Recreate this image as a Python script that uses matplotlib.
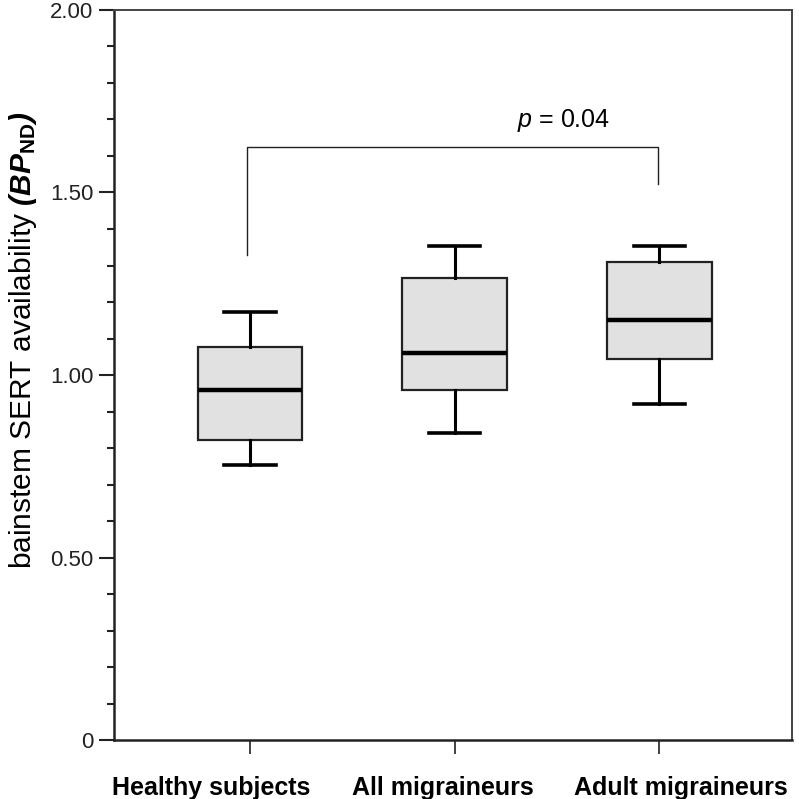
import matplotlib
matplotlib.use("Agg")
import matplotlib.pyplot as plt
from matplotlib.ticker import MultipleLocator, FixedLocator, FixedFormatter
from matplotlib.transforms import ScaledTranslation

plt.rcParams['font.family'] = ['Liberation Sans', 'DejaVu Sans']
plt.rcParams['mathtext.fontset'] = 'custom'
plt.rcParams['mathtext.rm'] = 'Liberation Sans:bold'
plt.rcParams['mathtext.it'] = 'Liberation Sans:italic'
plt.rcParams['mathtext.bf'] = 'Liberation Sans:bold:italic'

# groups and box statistics
groups = ['Healthy subjects', 'All migraineurs', 'Adult migraineurs']
whislo = [0.754, 0.842, 0.921]
q1 = [0.822, 0.958, 1.043]
med = [0.959, 1.061, 1.150]
q3 = [1.076, 1.266, 1.310]
whishi = [1.172, 1.353, 1.353]

# significance bracket
bracket_x = [0.984, 2.995]
bracket_top = 1.625
bracket_ends = [1.328, 1.523]
p_label = r'$p$ = 0.04'

ytick_vals = [0, 0.5, 1.0, 1.5, 2.0]
ytick_labels = ['0', '0.50', '1.00', '1.50', '2.00']

stats = [dict(whislo=a, q1=b, med=c, q3=d, whishi=e, fliers=[])
         for a, b, c, d, e in zip(whislo, q1, med, q3, whishi)]

fig = plt.figure(figsize=(7.99, 7.99), dpi=100)
ax = fig.add_axes([0.1427, 0.0738, 0.8485, 0.9137])

ax.bxp(stats, positions=[1, 2, 3], widths=0.51, patch_artist=True,
       boxprops=dict(facecolor='#e1e1e1', edgecolor='#222222', linewidth=1.6),
       medianprops=dict(color='black', linewidth=3.2),
       whiskerprops=dict(color='black', linewidth=2.2),
       capprops=dict(color='black', linewidth=2.6),
       capwidths=0.25)

# bracket
ax.plot([bracket_x[0], bracket_x[0], bracket_x[1], bracket_x[1]],
        [bracket_ends[0], bracket_top, bracket_top, bracket_ends[1]],
        color='#222222', linewidth=1.0)
ax.text(2.53, bracket_top + 0.055, p_label, ha='center', va='baseline', fontsize=18)

ax.set_xlim(0.336, 3.648)
ax.set_ylim(0, 2.0)

ax.set_xticks([1, 2, 3])
ax.set_xticklabels(groups, fontsize=18, fontweight='bold')
ax.tick_params(axis='x', direction='out', length=10, width=1.3, pad=16, colors='#333333',
               labelcolor='black')
# labels in the original are pushed apart from their ticks
shifts = [-39, -12, 22]
for lab, dx in zip(ax.get_xticklabels(), shifts):
    lab.set_transform(lab.get_transform() + ScaledTranslation(dx / 100, 0, fig.dpi_scale_trans))

ax.yaxis.set_major_locator(FixedLocator(ytick_vals))
ax.yaxis.set_major_formatter(FixedFormatter(ytick_labels))
ax.yaxis.set_minor_locator(MultipleLocator(0.1))
ax.tick_params(axis='y', which='major', direction='out', length=11, width=1.5, pad=4,
               labelsize=16, colors='#222222', labelcolor='#222222')
ax.tick_params(axis='y', which='minor', direction='out', length=5, width=1.5, colors='#222222')

for side in ['left', 'bottom']:
    ax.spines[side].set_linewidth(1.8)
    ax.spines[side].set_color('#222222')
for side in ['top', 'right']:
    ax.spines[side].set_linewidth(1.4)
    ax.spines[side].set_color('#444444')

ax.set_ylabel(r'bainstem SERT availability $\mathbf{(BP}_{\mathrm{ND}}\mathbf{)}$',
              fontsize=21.5)
ax.yaxis.set_label_coords(-0.11, 0.547)

fig.savefig('out.png', dpi=100)
